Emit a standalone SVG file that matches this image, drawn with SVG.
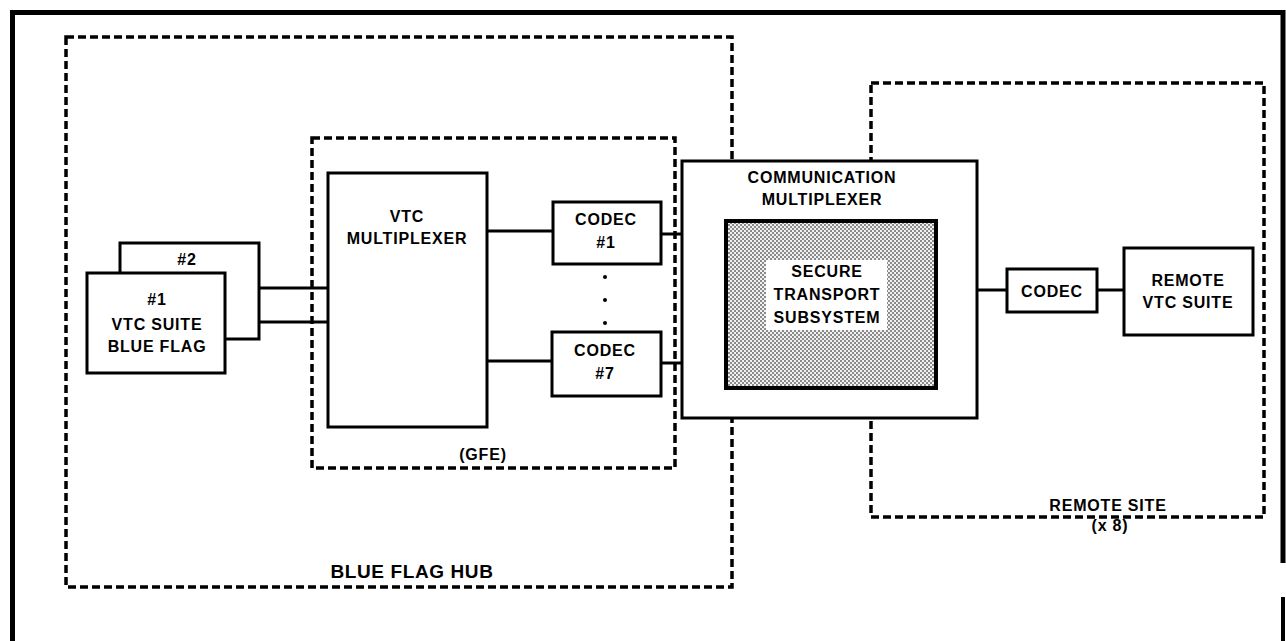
<svg xmlns="http://www.w3.org/2000/svg" width="1286" height="641" viewBox="0 0 1286 641">
<style>
.box{fill:#fff;stroke:#000;stroke-width:3}
.dash{fill:none;stroke:#000;stroke-width:3.5;stroke-dasharray:8 4}
.ln{fill:none;stroke:#000;stroke-width:3}
text{font-family:"Liberation Sans",Arial,sans-serif;font-weight:bold;font-size:16px;letter-spacing:0.8px;text-anchor:middle;fill:#000}
.big{font-size:19px;letter-spacing:0.6px}
</style>
<defs>
<pattern id="dots" width="4" height="4" patternUnits="userSpaceOnUse">
<rect width="4" height="4" fill="#f2f2f2"/>
<rect width="2" height="2" fill="#8a8a8a"/>
<rect x="2" y="2" width="2" height="2" fill="#8a8a8a"/>
</pattern>
</defs>
<rect width="1286" height="641" fill="#fff"/>
<g id="frame">
<path d="M12.5,641 V12.5 H1283 V563" fill="none" stroke="#000" stroke-width="5"/>
<path d="M1283,597 V641" fill="none" stroke="#000" stroke-width="4"/>
</g>
<g id="blue-flag-hub">
<rect class="dash" x="66" y="37" width="666" height="550"/>
<text class="big" x="412" y="578">BLUE FLAG HUB</text>
</g>
<g id="remote-site">
<rect class="dash" x="871" y="83" width="393" height="434"/>
<text x="1108" y="511">REMOTE SITE</text>
<text x="1110" y="531">(x 8)</text>
</g>
<g id="gfe">
<rect class="dash" x="312" y="138" width="363" height="330"/>
<text x="483" y="460">(GFE)</text>
</g>
<g id="connectors">
<line class="ln" x1="259" y1="288" x2="328" y2="288"/>
<line class="ln" x1="225" y1="322" x2="328" y2="322"/>
<line class="ln" x1="487" y1="231" x2="553" y2="231"/>
<line class="ln" x1="487" y1="361" x2="552" y2="361"/>
<line class="ln" x1="661" y1="234" x2="682" y2="234"/>
<line class="ln" x1="661" y1="363" x2="682" y2="363"/>
<line class="ln" x1="977" y1="290" x2="1007" y2="290"/>
<line class="ln" x1="1097" y1="290" x2="1124" y2="290"/>
</g>
<g id="suite2">
<rect class="box" x="120" y="243" width="139" height="96"/>
<text x="187" y="265">#2</text>
</g>
<g id="suite1">
<rect class="box" x="87" y="273" width="138" height="100"/>
<text x="157" y="305">#1</text>
<text x="157" y="330">VTC SUITE</text>
<text x="157" y="352">BLUE FLAG</text>
</g>
<g id="vtc-mux">
<rect class="box" x="328" y="173" width="159" height="254"/>
<text x="407" y="222">VTC</text>
<text x="407" y="244">MULTIPLEXER</text>
</g>
<g id="codec1">
<rect class="box" x="553" y="202" width="108" height="62"/>
<text x="606" y="225">CODEC</text>
<text x="606" y="248">#1</text>
</g>
<g id="ellipsis">
<circle cx="605" cy="277" r="2"/>
<circle cx="605" cy="300" r="2"/>
<circle cx="605" cy="323" r="2"/>
</g>
<g id="codec7">
<rect class="box" x="552" y="332" width="109" height="64"/>
<text x="605" y="356">CODEC</text>
<text x="605" y="379">#7</text>
</g>
<g id="comm-mux">
<rect class="box" x="682" y="161" width="295" height="257"/>
<text x="822" y="183">COMMUNICATION</text>
<text x="822" y="205">MULTIPLEXER</text>
</g>
<g id="secure-transport">
<rect x="726" y="221" width="210" height="167" fill="url(#dots)" stroke="#000" stroke-width="4"/>
<rect x="766" y="260" width="121" height="70" fill="#fff"/>
<text x="827" y="277">SECURE</text>
<text x="827" y="300">TRANSPORT</text>
<text x="827" y="323">SUBSYSTEM</text>
</g>
<g id="codec-remote">
<rect class="box" x="1007" y="269" width="90" height="43"/>
<text x="1052" y="297">CODEC</text>
</g>
<g id="remote-vtc">
<rect class="box" x="1124" y="248" width="129" height="87"/>
<text x="1188" y="286">REMOTE</text>
<text x="1188" y="308">VTC SUITE</text>
</g>
</svg>
